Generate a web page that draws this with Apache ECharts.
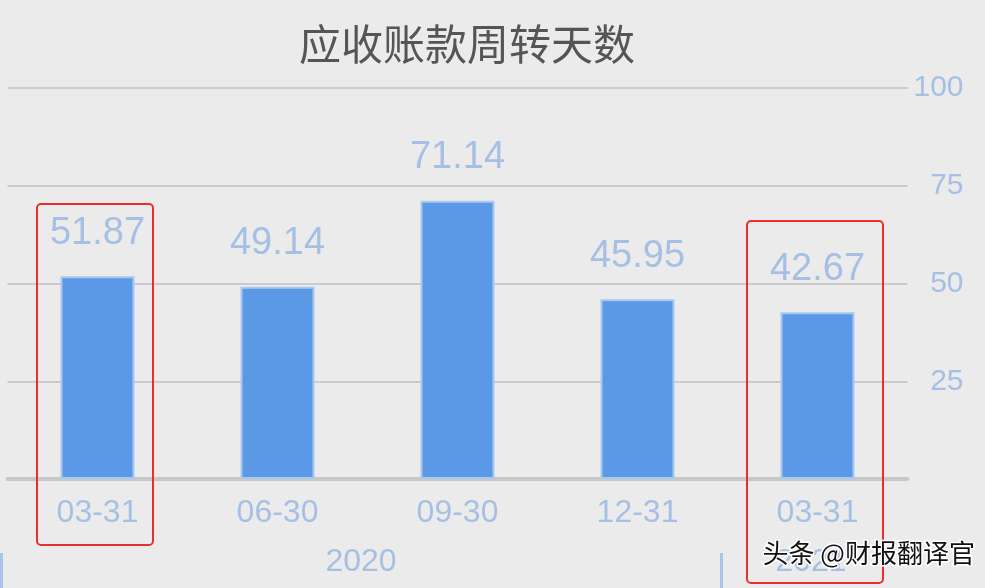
<!DOCTYPE html>
<html>
<head>
<meta charset="utf-8">
<script src="https://cdn.jsdelivr.net/npm/echarts@6/dist/echarts.min.js"></script>
<style>
html,body{margin:0;padding:0;background:#ebebeb;}
#c{width:985px;height:588px;}
</style>
</head>
<body>
<div id="c"></div>
<script>
const titleText = '应收账款周转天数';
const categories = ['03-31', '06-30', '09-30', '12-31', '03-31'];
const values = [51.87, 49.14, 71.14, 45.95, 42.67];
const yearLabels = ['2020', '2021'];
const yearLabelPos = [2, 4.5];
const yearDividers = [0, 4];
const yTicks = [0, 25, 50, 75, 100];

const chart = echarts.init(document.getElementById('c'));
const blueText = '#a6c0e4';
chart.setOption({
  backgroundColor: '#ebebeb',
  animation: false,
  title: {
    text: titleText,
    left: 294, top: 18,
    textStyle: { fontSize: 42, color: '#555555', fontWeight: 'normal', fontFamily: 'Noto Sans CJK SC' }
  },
  grid: [
    { left: 7.5, right: 77.5, top: 88, bottom: 109, containLabel: false },
    { left: 1, right: 84, top: 88, bottom: 109, containLabel: false }
  ],
  xAxis: [{
    type: 'category',
    gridIndex: 0,
    data: categories,
    axisLine: { show: true, lineStyle: { color: '#c8c8c8', width: 4 } },
    axisTick: { show: false },
    axisLabel: { color: blueText, fontSize: 32, fontFamily: 'Liberation Sans', margin: 18 }
  }, {
    type: 'value',
    gridIndex: 1,
    position: 'bottom',
    offset: 74,
    min: 0,
    max: 5,
    axisLine: { show: false, onZero: false },
    splitLine: { show: false },
    axisTick: { show: true, customValues: yearDividers, length: 40, lineStyle: { color: '#a8c4e8', width: 3 } },
    axisLabel: {
      show: true, customValues: yearLabelPos, margin: -7,
      color: blueText, fontSize: 32, fontFamily: 'Liberation Sans',
      formatter: function (v) { const i = yearLabelPos.indexOf(v); return i >= 0 ? yearLabels[i] : ''; }
    }
  }],
  yAxis: [{
    type: 'value',
    gridIndex: 0,
    position: 'right',
    min: yTicks[0], max: yTicks[yTicks.length - 1], interval: 25,
    axisLine: { show: false },
    axisTick: { show: false },
    splitLine: { lineStyle: { color: '#cbcbcb', width: 2 } },
    axisLabel: {
      color: blueText, fontSize: 30, fontFamily: 'Liberation Sans',
      align: 'right', margin: 56,
      formatter: function (v) { return v === 0 ? '' : String(v); }
    }
  }, {
    type: 'value',
    gridIndex: 1,
    show: false,
    min: 0, max: 100
  }],
  series: [{
    type: 'bar',
    xAxisIndex: 0,
    yAxisIndex: 0,
    data: values,
    barWidth: 74,
    itemStyle: { color: '#5b98e6', borderColor: '#a8c8f0', borderWidth: 2 },
    label: {
      show: true, position: 'top', distance: 24,
      color: blueText, fontSize: 38, fontFamily: 'Liberation Sans',
      formatter: function (p) { return p.value.toFixed(2); }
    }
  }],
  graphic: [
    { type: 'rect', shape: { x: 37, y: 204, width: 116, height: 341, r: 4 },
      style: { fill: 'none', stroke: '#e8302a', lineWidth: 2 }, z: 100 },
    { type: 'rect', shape: { x: 747, y: 221, width: 136, height: 362, r: 4 },
      style: { fill: 'none', stroke: '#e8302a', lineWidth: 2 }, z: 100 },
    { type: 'text', left: 761, top: 539, z: 101,
      style: { text: '头条 @财报翻译官', fontSize: 26, fill: '#111', stroke: '#fff', lineWidth: 3,
               fontFamily: 'Noto Sans CJK SC' } }
  ]
});
</script>
</body>
</html>
